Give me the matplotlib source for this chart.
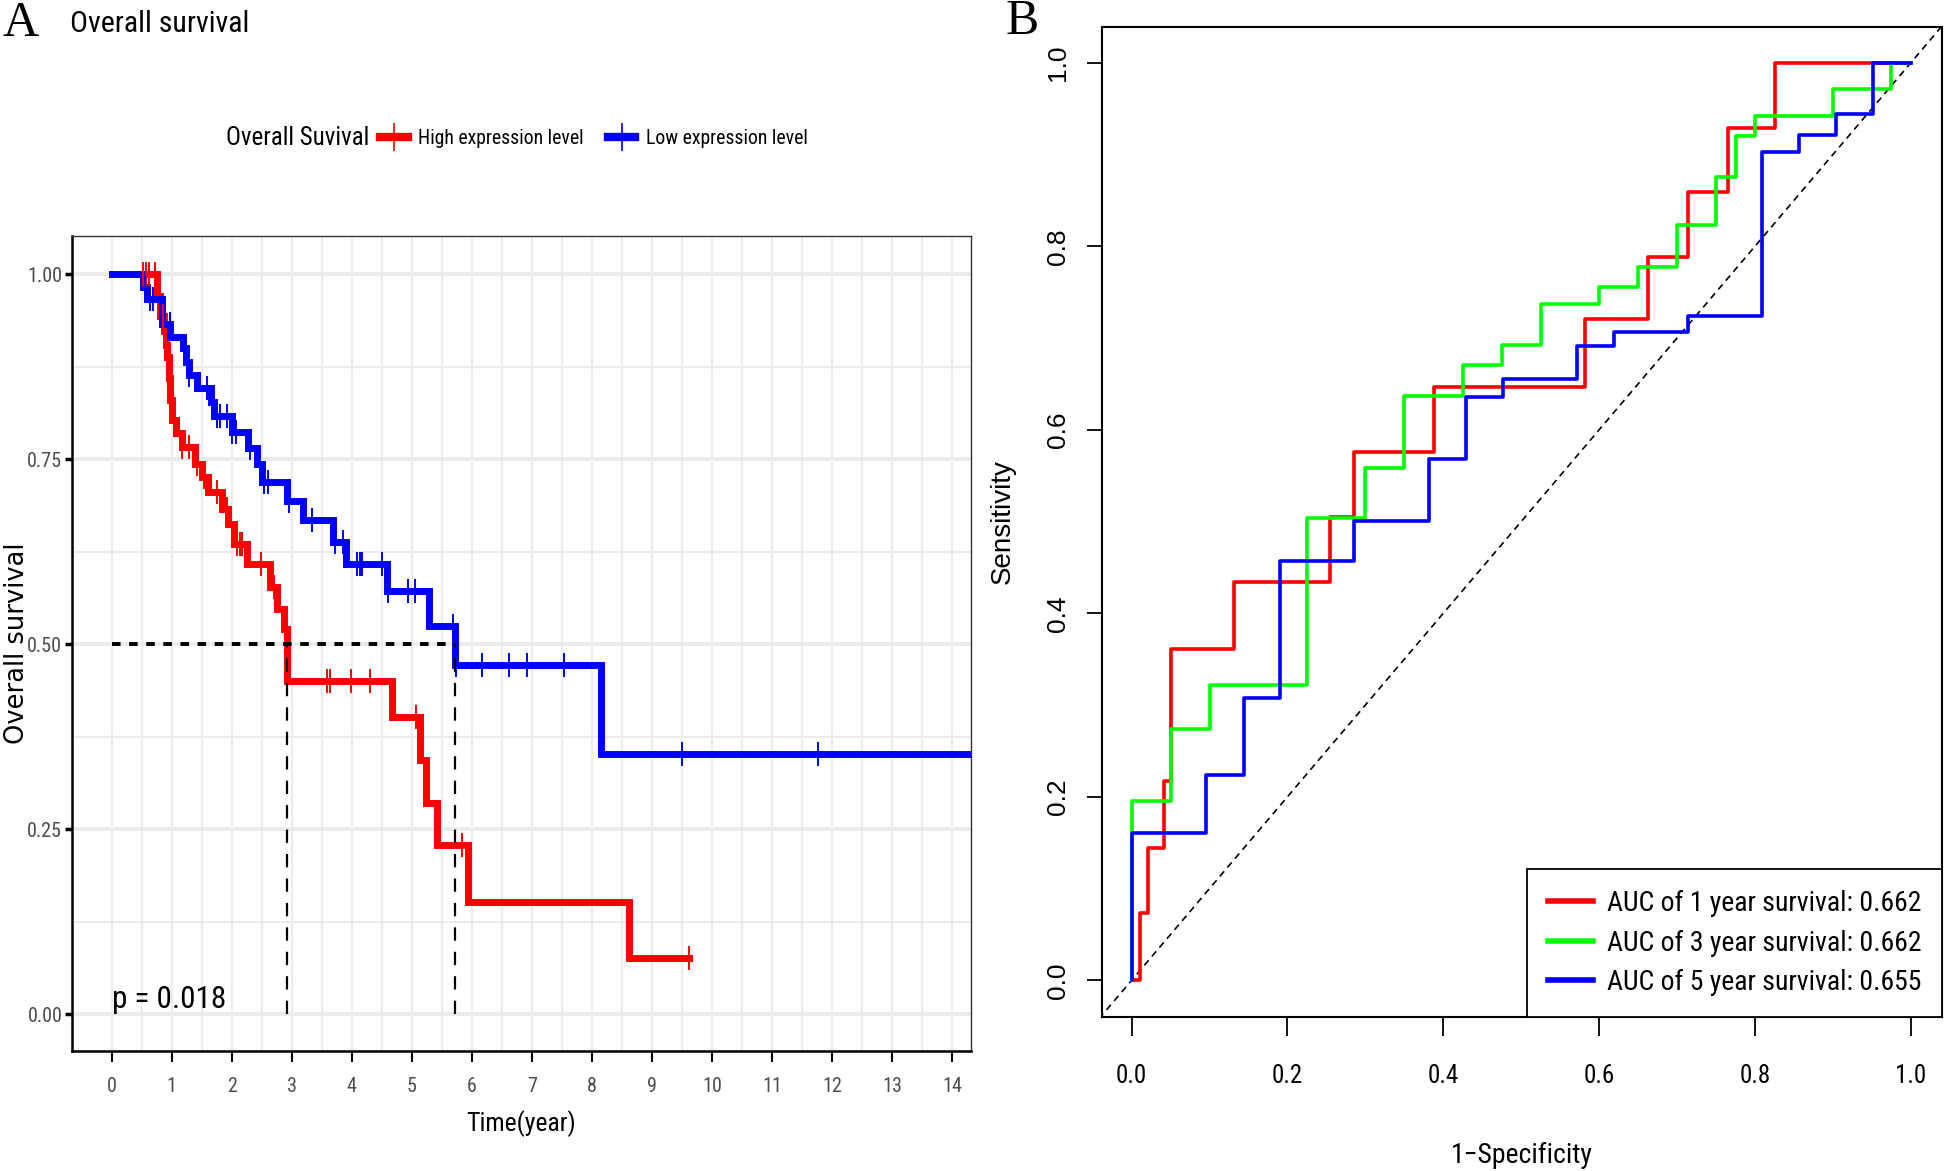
import numpy as np
import matplotlib
matplotlib.use("Agg")
import matplotlib.pyplot as plt
from matplotlib import font_manager as fm
from matplotlib.lines import Line2D

##pick the narrowest sans font that is installed
fonts = fm.fontManager.ttflist
names = {f.name for f in fonts}
NARROW = dict(family=["DejaVu Sans"], stretch="normal")
narrow_scale = 0.75
if "Liberation Sans Narrow" in names:
    NARROW = dict(family=["Liberation Sans Narrow", "DejaVu Sans"], stretch="normal")
    narrow_scale = 1.0
elif "Roboto Condensed" in names:
    NARROW = dict(family=["Roboto Condensed", "DejaVu Sans"], stretch="normal")
    narrow_scale = 1.0
elif any(f.name == "DejaVu Sans" and f.stretch == "condensed" for f in fonts):
    NARROW = dict(family=["DejaVu Sans"], stretch="condensed")
    narrow_scale = 0.85
elif "Roboto" in names:
    NARROW = dict(family=["Roboto", "DejaVu Sans"], stretch="normal")
    narrow_scale = 0.85
WIDE = ["Liberation Sans", "DejaVu Sans"]
SERIF = ["Liberation Serif", "DejaVu Serif"]


def nfont(size):
    return fm.FontProperties(family=NARROW["family"], stretch=NARROW["stretch"], size=size * narrow_scale)


##survival curves (time in years, survival after each event)
high_t = [0, 0.76, 0.80, 0.87, 0.90, 0.92, 0.95, 0.98, 1.00, 1.08, 1.17, 1.39, 1.50, 1.61,
          1.83, 1.94, 2.03, 2.25, 2.63, 2.75, 2.87, 2.92, 4.67, 5.14, 5.23, 5.41, 5.94, 8.62, 9.62]
high_s = [1.0, 0.971, 0.944, 0.924, 0.905, 0.888, 0.86, 0.83, 0.803, 0.785, 0.767, 0.744, 0.726, 0.706,
          0.683, 0.663, 0.636, 0.609, 0.578, 0.548, 0.52, 0.45, 0.402, 0.344, 0.286, 0.228, 0.152, 0.076, 0.076]
high_cens = [0.52, 0.57, 0.63, 0.72, 0.86, 1.05, 1.17, 1.29, 1.42, 1.53, 1.75, 1.92, 2.08, 2.14, 2.17,
             2.49, 2.70, 3.58, 3.63, 3.98, 4.30, 5.07, 5.83, 9.62]

low_t = [0, 0.53, 0.595, 0.834, 0.973, 1.195, 1.24, 1.28, 1.417, 1.655, 1.71, 2.0, 2.278, 2.416, 2.5,
         2.916, 3.18, 3.69, 3.9, 4.59, 5.29, 5.71, 8.15, 14.5]
low_s = [1.0, 0.983, 0.967, 0.933, 0.915, 0.900, 0.882, 0.864, 0.846, 0.828, 0.809, 0.787, 0.765, 0.744, 0.719,
         0.694, 0.668, 0.638, 0.609, 0.572, 0.524, 0.472, 0.352, 0.352]
low_cens = [0.56, 0.64, 0.69, 0.97, 1.28, 1.58, 1.75, 1.81, 1.92, 2.0, 2.07, 2.30, 2.47, 2.54, 2.61,
            2.96, 3.33, 3.72, 3.86, 4.08, 4.13, 4.17, 4.50, 4.61, 4.94, 5.05, 5.69, 5.74, 6.16, 6.62,
            6.91, 7.54, 9.49, 11.77]
median_times = [2.92, 5.71]
p_text = "p = 0.018"

##ROC curves
roc1_fpr = [0, 0.011, 0.0205, 0.041, 0.051, 0.132, 0.254, 0.286, 0.388, 0.582, 0.663, 0.714, 0.765, 0.826, 1.0]
roc1_tpr = [0, 0.073, 0.144, 0.217, 0.361, 0.434, 0.505, 0.576, 0.647, 0.721, 0.788, 0.859, 0.929, 1.0, 1.0]
roc3_fpr = [0, 0, 0.051, 0.100, 0.225, 0.300, 0.350, 0.425, 0.475, 0.525, 0.600, 0.650, 0.700, 0.750,
            0.775, 0.800, 0.900, 0.975, 1.0]
roc3_tpr = [0, 0.195, 0.274, 0.322, 0.504, 0.558, 0.637, 0.671, 0.692, 0.737, 0.756, 0.777, 0.823, 0.875,
            0.92, 0.942, 0.971, 1.0, 1.0]
roc5_fpr = [0, 0, 0.096, 0.144, 0.191, 0.286, 0.382, 0.429, 0.477, 0.571, 0.619, 0.714, 0.809, 0.856,
            0.904, 0.951, 1.0]
roc5_tpr = [0, 0.161, 0.224, 0.308, 0.457, 0.501, 0.568, 0.636, 0.655, 0.691, 0.707, 0.724, 0.903, 0.921,
            0.944, 1.0, 1.0]
roc_labels = ["AUC of 1 year survival: 0.662", "AUC of 3 year survival: 0.662", "AUC of 5 year survival: 0.655"]


def surv_at(times, surv, t):
    idx = np.searchsorted(times, t, side="right") - 1
    return np.array(surv)[idx]


def drawKM(ax):
    groups = [(high_t, high_s, high_cens, "red"), (low_t, low_s, low_cens, "blue")]
    for t, s, c, col in groups:
        ax.step(t, s, where="post", color=col, lw=5.0, solid_joinstyle="miter", zorder=3)
        ax.plot(c, surv_at(t, s, c), ls="none", marker="|", color=col, ms=17, mew=1.4, zorder=4)

    ##median survival lines
    ax.plot([0, max(median_times)], [0.5, 0.5], color="black", ls=(0, (2.2, 2.2)), lw=2.8, zorder=5)
    for m in median_times:
        ax.plot([m, m], [0, 0.5], color="black", ls=(0, (6, 5)), lw=1.6, zorder=5)

    ax.set_xlim(-0.66, 14.31)
    ax.set_ylim(-0.05, 1.052)
    ax.set_xticks(np.arange(0, 15))
    ax.set_xticks(np.arange(0.5, 14.5, 1), minor=True)
    ax.set_yticks([0, 0.25, 0.5, 0.75, 1.0])
    ax.set_yticks([0.125, 0.375, 0.625, 0.875], minor=True)
    ax.set_yticklabels(["0.00", "0.25", "0.50", "0.75", "1.00"])
    ax.grid(True, which="major", axis="y", color="#EBEBEB", lw=2.8)
    ax.grid(True, which="minor", axis="y", color="#EBEBEB", lw=1.5)
    ax.grid(True, which="both", axis="x", color="#EBEBEB", lw=1.5)
    ax.set_axisbelow(True)
    ax.tick_params(which="minor", length=0)
    ax.tick_params(axis="x", which="major", length=8, width=1.5, pad=11, labelcolor="#4D4D4D")
    ax.tick_params(axis="y", which="major", length=5, width=2.5, pad=2, labelcolor="#4D4D4D")
    for lab in ax.get_xticklabels():
        lab.set_fontproperties(nfont(14.5))
    for lab in ax.get_yticklabels():
        lab.set_fontproperties(nfont(14.5))
    for side in ["left", "bottom"]:
        ax.spines[side].set_linewidth(1.8)
        ax.spines[side].set_color("black")
    for side in ["top", "right"]:
        ax.spines[side].set_linewidth(1.0)
        ax.spines[side].set_color("#333333")
    ax.set_xlabel("Time(year)", fontproperties=nfont(18.5), labelpad=10)
    ax.set_ylabel("Overall survival", family="DejaVu Sans", fontsize=18.5)
    ax.yaxis.set_label_coords(-0.047, 0.5)
    ax.text(0, 0.02, p_text, fontproperties=nfont(22.5), ha="left", va="center")


def drawROC(ax):
    curves = [(roc1_fpr, roc1_tpr, "#FF0000"), (roc3_fpr, roc3_tpr, "#00FF00"), (roc5_fpr, roc5_tpr, "#0000FF")]
    handles = []
    for (x, y, col), lab in zip(curves, roc_labels):
        ax.step(x, y, where="post", color=col, lw=2.6, zorder=3)
        handles.append(Line2D([], [], color=col, lw=4, label=lab))
    ax.plot([-0.1, 1.1], [-0.1, 1.1], color="black", ls=(0, (4, 3)), lw=1.2, zorder=2)
    ax.set_xlim(-0.038, 1.04)
    ax.set_ylim(-0.04, 1.039)
    ticks = [0, 0.2, 0.4, 0.6, 0.8, 1.0]
    ax.set_xticks(ticks)
    ax.set_yticks(ticks)
    ax.set_xticklabels(["0.0", "0.2", "0.4", "0.6", "0.8", "1.0"], fontproperties=nfont(18))
    ax.set_yticklabels(["0.0", "0.2", "0.4", "0.6", "0.8", "1.0"], family=WIDE, fontsize=19,
                       rotation=90, va="center")
    ax.tick_params(axis="x", length=14, width=1.3, pad=20)
    ax.tick_params(axis="y", length=11, width=1.3, pad=12)
    for side in ax.spines:
        ax.spines[side].set_linewidth(1.5)
    ax.set_xlabel("1\u2212Specificity", fontproperties=nfont(20), labelpad=39)
    ax.set_ylabel("Sensitivity", family=WIDE, fontsize=20, labelpad=22)
    leg = ax.legend(handles=handles, loc="lower right", borderaxespad=0, fancybox=False,
                    prop=nfont(20), handlelength=1.6, labelspacing=0.45,
                    borderpad=0.75, handletextpad=0.5)
    leg.get_frame().set_edgecolor("black")
    leg.get_frame().set_linewidth(1.3)
    leg.get_frame().set_alpha(1)


fig = plt.figure(figsize=(19.44, 11.71), dpi=100)
ax1 = fig.add_axes([72 / 1944, 1 - 1051 / 1171, 899 / 1944, 815 / 1171])
ax2 = fig.add_axes([1102 / 1944, 1 - 1017 / 1171, 840 / 1944, 990 / 1171])
drawKM(ax1)
drawROC(ax2)

fig.text(2 / 1944, 1 - 24 / 1171, "A", family=SERIF, fontsize=36, va="center", ha="left")
fig.text(70 / 1944, 1 - 24 / 1171, "Overall survival", fontproperties=nfont(21.5), va="center", ha="left")
fig.text(1006 / 1944, 1 - 22 / 1171, "B", family=SERIF, fontsize=36, va="center", ha="left")

##legend for the survival curves
fig.text(226 / 1944, 1 - 138 / 1171, "Overall Suvival", fontproperties=nfont(17.9), va="center", ha="left")
km_handles = [Line2D([], [], color="red", lw=6, marker="|", ms=20, mew=1.2, label="High expression level"),
              Line2D([], [], color="blue", lw=6, marker="|", ms=20, mew=1.2, label="Low expression level")]
fig.legend(handles=km_handles, loc="center left", bbox_to_anchor=(380 / 1944, 1 - 138 / 1171), ncol=2,
           frameon=False, prop=nfont(14.2), handlelength=1.4, handletextpad=0.55,
           columnspacing=1.2, borderpad=0, borderaxespad=0)

fig.savefig("out.png", dpi=100)
